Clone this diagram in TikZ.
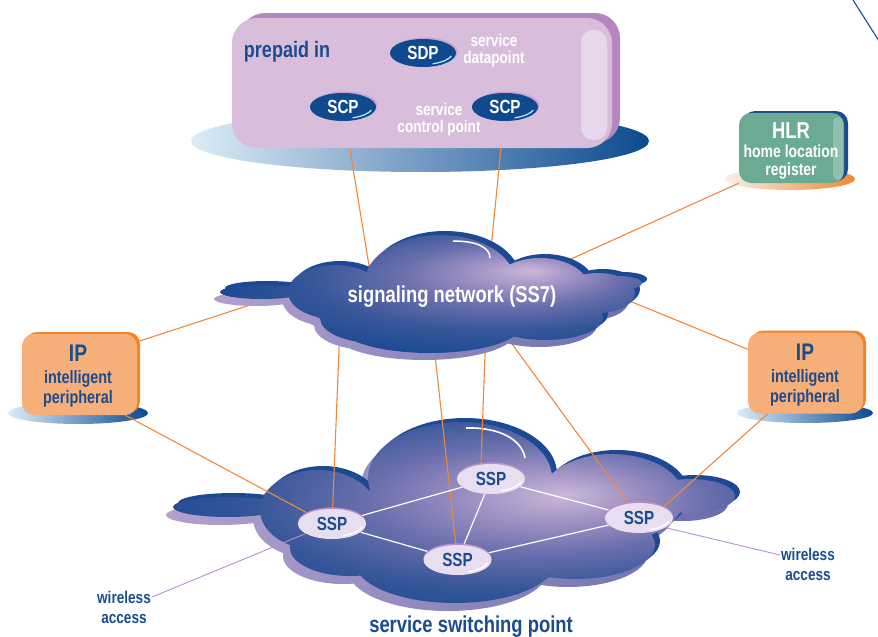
\documentclass[tikz,border=0pt]{standalone}
\usepackage{fontspec}
\newfontfamily\cf{Liberation Sans}[FakeStretch=0.8]
\usetikzlibrary{shapes.geometric}
\definecolor{tblue}{HTML}{1A4C8E}
\definecolor{lorange}{HTML}{F0883C}
\definecolor{lpurple}{HTML}{B990CC}
\definecolor{boxfill}{HTML}{D8BEDB}
\definecolor{boxback}{HTML}{B687BF}
\definecolor{boxhi}{HTML}{E6D7EA}
\definecolor{sdpblue}{HTML}{0F4A8F}
\definecolor{sdprim}{HTML}{C8A3D5}
\definecolor{sspfill}{HTML}{E8DEEF}
\definecolor{ssprim}{HTML}{B590C8}
\definecolor{hlrfill}{HTML}{6CAB93}
\definecolor{hlrback}{HTML}{1B4B90}
\definecolor{hlrhi}{HTML}{8FC0AE}
\definecolor{ipfill}{HTML}{F7AF7A}
\definecolor{ipback}{HTML}{F08428}
\definecolor{cdark}{HTML}{1B4A93}
\definecolor{cback}{HTML}{B3A0CE}
\definecolor{cl1}{HTML}{CBB7DA}
\definecolor{cl2}{HTML}{A092C4}
\definecolor{cl3}{HTML}{6A6FAD}
\definecolor{cl4}{HTML}{365699}
\definecolor{shlight}{HTML}{DCECF7}
\definecolor{shmid}{HTML}{7CB6DF}
\definecolor{shdark}{HTML}{0C4A8F}
\definecolor{oshlight}{HTML}{F5F0EC}
\definecolor{oshdark}{HTML}{F08830}
\pgfdeclarelayer{bgl}\pgfdeclarelayer{cloudlow}\pgfdeclarelayer{lines}\pgfdeclarelayer{cloudhigh}
\pgfsetlayers{bgl,cloudlow,lines,cloudhigh,main}
\pgfdeclareradialshading{cloudlowrad}{\pgfpoint{10bp}{5bp}}{color(0bp)=(cl1); color(7bp)=(cl2); color(15bp)=(cl3); color(24bp)=(cl4); color(33bp)=(cdark); color(60bp)=(cdark)}
\pgfdeclareradialshading{cloudsigrad}{\pgfpoint{12bp}{10bp}}{color(0bp)=(cl1); color(6bp)=(cl2); color(13bp)=(cl3); color(22bp)=(cl4); color(31bp)=(cdark); color(60bp)=(cdark)}
\newcommand\fsz[2]{\fontsize{#1}{#2}\selectfont}
\begin{document}
\begin{tikzpicture}[x=1pt,y=-1pt,
  txt/.style={inner sep=0pt, font=\cf\bfseries},
  olink/.style={draw=lorange, line width=1.1pt},
  plink/.style={draw=lpurple, line width=0.9pt},
  wlink/.style={draw=white, line width=1.2pt},
  sspnode/.style={ellipse, fill=sspfill, minimum width=68pt, minimum height=30pt, inner sep=0pt,
    text=tblue, font=\cf\bfseries\fsz{19}{19},
    preaction={fill=ssprim, transform canvas={yshift=1.6pt}},
    path picture={\draw[white, line width=1.3pt] (path picture bounding box.center) ++(10.6pt,-11.7pt)
      arc[start angle=-70, end angle=-15, x radius=31pt, y radius=12.5pt];}},
  scpnode/.style={ellipse, fill=sdpblue, minimum width=66pt, minimum height=28pt, inner sep=0pt,
    text=white, font=\cf\bfseries\fsz{19}{19},
    preaction={fill=sdprim, transform canvas={shift={(1.5pt,1.5pt)}}},
    path picture={\draw[cyan!25!white, line width=1.2pt] (path picture bounding box.center) ++(9.6pt,-10.8pt)
      arc[start angle=-70, end angle=-15, x radius=30pt, y radius=11.5pt];}},
  topbox/.style={rectangle, rounded corners=25pt, fill=boxfill, minimum width=380pt, minimum height=130pt,
    inner sep=0pt, preaction={fill=boxback, transform canvas={shift={(8pt,5pt)}}}},
  hlrbox/.style={rectangle, rounded corners=12pt, fill=hlrfill, minimum width=105pt, minimum height=70pt,
    inner sep=0pt, preaction={fill=hlrback, transform canvas={shift={(4pt,2pt)}}}},
  ipbox/.style={rectangle, rounded corners=12pt, fill=ipfill, minimum width=115pt, minimum height=81pt,
    inner sep=0pt, preaction={fill=ipback, transform canvas={shift={(3pt,2pt)}}}},
  sigshape/.style={insert path={(440,282) ellipse (75pt and 47pt) (540,290) ellipse (50pt and 32pt)
    (598,293) ellipse (37pt and 20pt) (618,283) ellipse (24pt and 7pt) (335,292) ellipse (47pt and 27pt)
    (262,292) ellipse (42pt and 7pt) (430,325) ellipse (92pt and 28pt) (545,318) ellipse (58pt and 22pt)
    (375,318) ellipse (55pt and 25pt) (445,305) ellipse (140pt and 30pt)}},
  lowshape/.style={insert path={(460,478) ellipse (92pt and 56pt) (612,498) ellipse (72pt and 44pt)
    (690,496) ellipse (45pt and 17pt) (318,510) ellipse (58pt and 40pt) (228,507) ellipse (55pt and 10pt)
    (455,562) ellipse (100pt and 41pt) (575,545) ellipse (80pt and 34pt) (350,548) ellipse (60pt and 28pt)
    (465,525) ellipse (170pt and 42pt)}}
]
\useasboundingbox (0,0) rectangle (878,637);

% ---------- shadows
\begin{pgfonlayer}{bgl}
\shade[left color=shlight, middle color=shmid, right color=shdark] (420,141) ellipse (229pt and 31pt);
\shade[left color=oshlight, right color=oshdark] (790,179) ellipse (65pt and 11pt);
\shade[left color=shlight, middle color=shmid, right color=shdark] (78,413) ellipse (70pt and 11pt);
\shade[left color=shlight, middle color=shmid, right color=shdark] (805,413) ellipse (68pt and 10pt);
\end{pgfonlayer}

% ---------- lower cloud
\begin{pgfonlayer}{cloudlow}
\shade[left color=cback, right color=cl3, shift={(-7,8)}, lowshape];
\fill[cdark, shift={(5,-4)}, lowshape];
\shade[shading=cloudlowrad, lowshape];
\draw[white, line width=1.6pt] (466,428) .. controls (500,427) and (522,440) .. (525,458);
\end{pgfonlayer}

% ---------- signaling cloud
\begin{pgfonlayer}{cloudhigh}
\shade[left color=cback, right color=cl3, shift={(-6,7)}, sigshape];
\fill[cdark, shift={(5,-4)}, sigshape];
\shade[shading=cloudsigrad, sigshape];
\draw[white, line width=1.5pt] (453,241) .. controls (478,241) and (490,248) .. (490,258);
\end{pgfonlayer}

% ---------- top box
\node[topbox] (IN) at (422,83) {};
\fill[boxhi, rounded corners=12pt] (581,30) rectangle (607,140);
\node[txt, text=tblue, font=\cf\bfseries\fsz{22.5}{22.5}, anchor=base] (prep) at (287,57) {prepaid in};
\node[scpnode] (SDP) at (423,53) {SDP};
\node[scpnode] (SCP1) at (343,107) {SCP};
\node[scpnode] (SCP2) at (505,107) {SCP};
\node[txt, text=white, font=\cf\bfseries\fsz{17}{17}, align=center] (sdpl) at (494,51) {service\\datapoint};
\node[txt, text=white, font=\cf\bfseries\fsz{17}{17}, align=center] (scpl) at (439,120) {service\\control point};

% ---------- HLR
\node[hlrbox] (HLR) at (791.5,148) {};
\fill[hlrhi, rounded corners=5pt] (833,117) rectangle (843,180);
\node[txt, text=white, font=\cf\bfseries\fsz{23}{23}] (HLRt) at (791,131) {HLR};
\node[txt, text=white, font=\cf\bfseries\fsz{17.5}{18}, align=center] (HLRs) at (791,162) {home location\\register};

% ---------- IP boxes
\node[ipbox] (IPL) at (79.5,374.5) {};
\node[txt, text=tblue, font=\cf\bfseries\fsz{24}{24}] (IPLt) at (78,353) {IP};
\node[txt, text=tblue, font=\cf\bfseries\fsz{18}{20}, align=center] (IPLs) at (78,389) {intelligent\\peripheral};
\node[ipbox] (IPR) at (805.5,373) {};
\node[txt, text=tblue, font=\cf\bfseries\fsz{24}{24}] (IPRt) at (805,352) {IP};
\node[txt, text=tblue, font=\cf\bfseries\fsz{18}{20}, align=center] (IPRs) at (805,388) {intelligent\\peripheral};

% ---------- SSP nodes
\node[sspnode] (SSP1) at (332,524) {SSP};
\node[sspnode] (SSP2) at (491,479) {SSP};
\node[sspnode] (SSP3) at (457.5,560) {SSP};
\node[sspnode] (SSP4) at (639,518) {SSP};

% ---------- labels
\node[txt, text=white, font=\cf\bfseries\fsz{23}{23}] (sig) at (452,297) {signaling network (SS7)};
\node[txt, text=tblue, font=\cf\bfseries\fsz{23}{23}] (ssw) at (471,627) {service switching point};
\node[txt, inner sep=1pt, text=tblue, font=\cf\bfseries\fsz{17}{20}, align=center] (wl) at (124,607) {wireless\\access};
\node[txt, inner sep=1pt, text=tblue, font=\cf\bfseries\fsz{17}{20}, align=center] (wr) at (808,564) {wireless\\access};

% ---------- connectors
\coordinate (t1) at (373,290);
\coordinate (t2) at (487,290);
\coordinate (h1) at (540,273);
\coordinate (i1) at (290,292);
\coordinate (i2) at (600,289);
\coordinate (s1) at (341,300);
\coordinate (s2) at (487,300);
\coordinate (s3) at (429,300);
\coordinate (s4) at (480,300);
\coordinate (c1) at (853,0);
\coordinate (c2) at (879,41);
\begin{pgfonlayer}{lines}
\draw[olink] (SCP1) -- (t1);
\draw[olink] (SCP2) -- (t2);
\draw[olink] (HLR.south west) -- (h1);
\draw[olink] ([yshift=-8pt]IPL.north east) -- (i1);
\draw[olink] ([yshift=-17pt]IPR.north west) -- (i2);
\draw[olink] (s1) -- (SSP1);
\draw[olink] (s2) -- ([xshift=-10pt]SSP2.north);
\draw[olink] (s3) -- (SSP3);
\draw[olink] (s4) -- (SSP4);
\draw[olink] ([xshift=-12pt]IPL.south east) -- (SSP1.north west);
\draw[olink] ([xshift=20pt]IPR.south west) -- (SSP4.north east);
\draw[wlink] (SSP1) -- (SSP2);
\draw[wlink] (SSP1) -- (SSP3);
\draw[wlink] (SSP2) -- (SSP3);
\draw[wlink] (SSP2) -- (SSP4);
\draw[wlink] (SSP3) -- (SSP4);
\draw[plink] (SSP1.200) -- ([yshift=10pt]wl.east);
\draw[plink] (SSP4.-20) -- ([yshift=9pt]wr.west);
\end{pgfonlayer}
\draw[draw=tblue, line width=1.1pt] (c1) -- (c2);
\end{tikzpicture}
\end{document}
